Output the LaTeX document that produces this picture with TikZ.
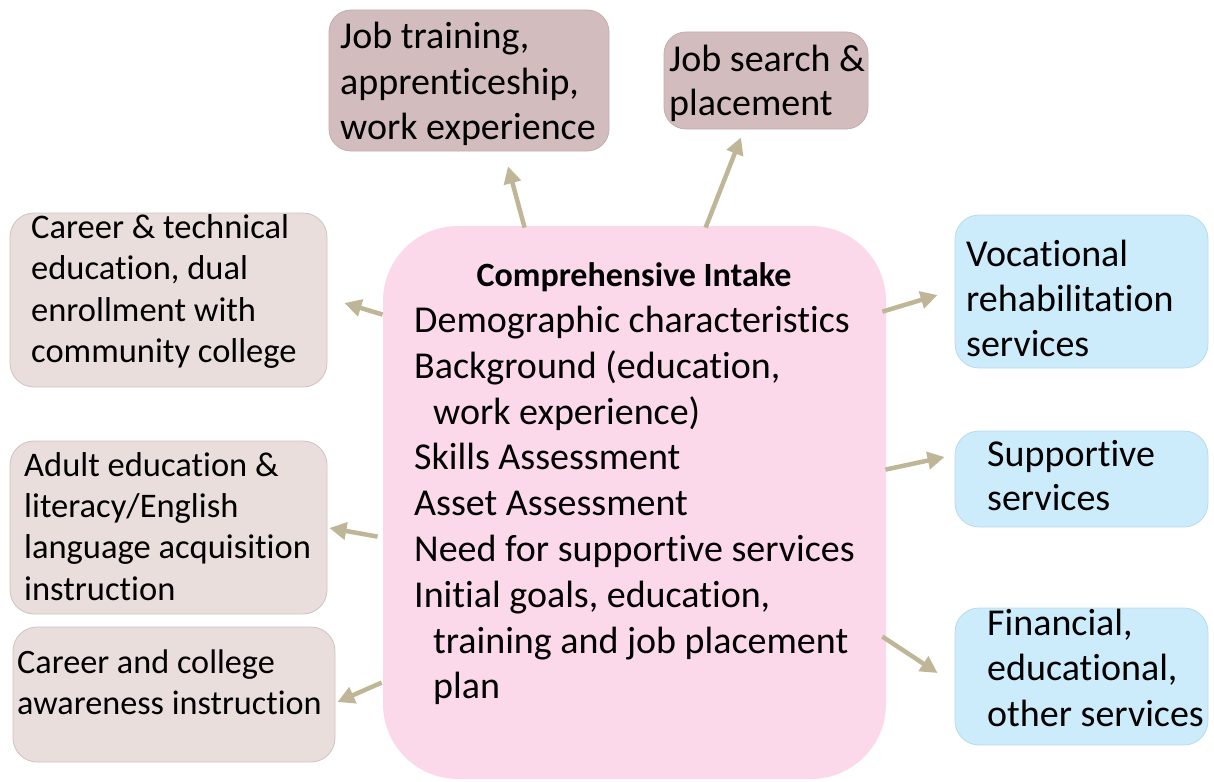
\documentclass[tikz,border=0pt]{standalone}
\usepackage{fontspec}
\setmainfont{Carlito}[Ligatures=NoCommon]
\usetikzlibrary{arrows.meta,calc}
\definecolor{pinkc}{RGB}{251,217,234}
\definecolor{mauve}{RGB}{211,188,189}
\definecolor{mauved}{RGB}{195,172,173}
\definecolor{beige}{RGB}{233,222,219}
\definecolor{beiged}{RGB}{205,195,192}
\definecolor{bluec}{RGB}{204,236,251}
\definecolor{blued}{RGB}{185,218,235}
\definecolor{arrowc}{RGB}{191,182,152}
\newcommand{\txt}[3]{\parbox[t]{600pt}{\fontsize{#1}{#2}\selectfont\raggedright #3}}
\begin{document}
\begin{tikzpicture}[x=1pt,y=-1pt,
  box/.style={rectangle,inner sep=0pt,line width=0.8pt},
  topbox/.style={box,fill=mauve,draw=mauved,rounded corners=22pt},
  leftbox/.style={box,fill=beige,draw=beiged,rounded corners=24pt},
  rightbox/.style={box,fill=bluec,draw=blued,rounded corners=24pt},
  tx/.style={anchor=base west,inner sep=0pt},
  arr/.style={draw=arrowc,line width=4.5pt,-{Triangle[length=17pt,width=17pt]}}]
\useasboundingbox (0,0) rectangle (1214,781);
% boxes
\node[box,fill=pinkc,draw=none,rounded corners=75pt,minimum width=503pt,minimum height=553pt] (cen) at (634.5,502.5) {};
\node[topbox,minimum width=280pt,minimum height=141pt] (jt) at (469,80.5) {};
\node[topbox,minimum width=204pt,minimum height=97pt] (js) at (766,80.5) {};
\node[leftbox,minimum width=317pt,minimum height=174pt] (ct) at (168.5,300) {};
\node[leftbox,minimum width=317pt,minimum height=173pt] (ae) at (168.5,527.5) {};
\node[leftbox,minimum width=322pt,minimum height=135pt] (cc) at (174,694.5) {};
\node[rightbox,minimum width=253pt,minimum height=153pt] (vr) at (1081.5,291.5) {};
\node[rightbox,minimum width=253pt,minimum height=96pt] (ss) at (1081.5,479) {};
\node[rightbox,minimum width=253pt,minimum height=137pt] (fe) at (1081.5,676.5) {};
% texts
\node[anchor=base,inner sep=0pt] (title) at (634,286) {\fontsize{34}{40}\selectfont\bfseries Comprehensive Intake};
\node[tx] (tcen) at (414,332.5) {\txt{38}{45.8}{Demographic characteristics\\Background (education,\\\hspace*{19pt}work experience)\\Skills Assessment\\Asset Assessment\\Need for supportive services\\Initial goals, education,\\\hspace*{19pt}training and job placement\\\hspace*{19pt}plan}};
\node[tx] (tjt) at (340,49) {\txt{38}{45.5}{Job training,\\apprenticeship,\\work experience}};
\node[tx] (tjs) at (669,72) {\txt{38}{44}{Job search \&\\placement}};
\node[tx] (tct) at (31,238.5) {\txt{34.5}{41.4}{Career \& technical\\education, dual\\enrollment with\\community college}};
\node[tx] (tae) at (24,476) {\txt{34.5}{41.4}{Adult education \&\\literacy/English\\language acquisition\\instruction}};
\node[tx] (tcc) at (17,673) {\txt{34.2}{41}{Career and college\\awareness instruction}};
\node[tx] (tvr) at (966,266.5) {\txt{38}{45}{Vocational\\rehabilitation\\services}};
\node[tx] (tss) at (987,466) {\txt{38}{44.5}{Supportive\\services}};
\node[tx] (tfe) at (987,635) {\txt{38}{45.5}{Financial,\\educational,\\other services}};
% arrows
\draw[arr] ($(cen.north west)+(142,2)$) -- ($(jt.south)+(39,15)$);
\draw[arr] ($(cen.north west)+(323,2)$) -- ($(js.south)+(-25,8)$);
\draw[arr] ($(cen.north west)+(0,89)$) -- ($(ct.east)+(17,3)$);
\draw[arr] ($(cen.north west)+(-5,311)$) -- ($(ae.east)+(2,0.5)$);
\draw[arr] ($(cen.north west)+(-1,457)$) -- ($(cc.east)+(2,7.5)$);
\draw[arr] ($(cen.north east)+(-4,86)$) -- ($(vr.west)+(-17,3.5)$);
\draw[arr] ($(cen.north east)+(-1,244)$) -- ($(ss.west)+(-10,-22)$);
\draw[arr] ($(cen.north east)+(-4,411)$) -- ($(fe.west)+(-17,-3.5)$);
\end{tikzpicture}
\end{document}
